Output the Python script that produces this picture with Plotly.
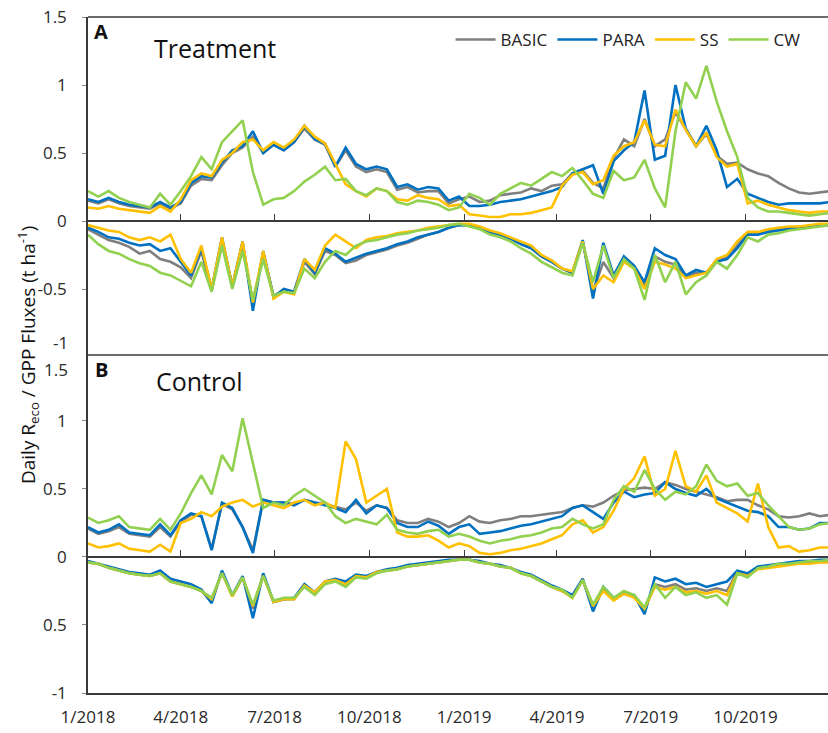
import plotly.graph_objects as go
import pandas as pd

# ---------------- data (10-day samples) ----------------
dates = pd.date_range("2018-01-01", periods=73, freq="10D")

series_names = ["BASIC", "PARA", "SS", "CW"]
colors = ["#7f7f7f", "#0070c0", "#ffc000", "#92d050"]

quarter_ticks = ["2018-01-01", "2018-04-01", "2018-07-01", "2018-10-01",
                 "2019-01-01", "2019-04-01", "2019-07-01", "2019-10-01"]
quarter_labels = ["1/2018", "4/2018", "7/2018", "10/2018",
                  "1/2019", "4/2019", "7/2019", "10/2019"]

# Panel A (Treatment) - Reco (positive)
a_reco_basic = [0.15, 0.13, 0.16, 0.13, 0.11, 0.10, 0.09, 0.13, 0.09, 0.13,
                0.26, 0.31, 0.30, 0.41, 0.50, 0.54, 0.62, 0.50, 0.56, 0.52,
                0.58, 0.68, 0.60, 0.56, 0.40, 0.52, 0.40, 0.36, 0.38, 0.36,
                0.23, 0.25, 0.21, 0.22, 0.22, 0.13, 0.16, 0.18, 0.14, 0.15,
                0.19, 0.20, 0.21, 0.24, 0.22, 0.26, 0.27, 0.35, 0.37, 0.28,
                0.24, 0.46, 0.60, 0.55, 0.75, 0.55, 0.60, 0.80, 0.68, 0.55,
                0.64, 0.48, 0.42, 0.43, 0.38, 0.35, 0.33, 0.28, 0.24, 0.21,
                0.20, 0.21, 0.22]
a_reco_para = [0.16, 0.14, 0.17, 0.14, 0.12, 0.11, 0.10, 0.14, 0.10, 0.14,
               0.28, 0.33, 0.32, 0.43, 0.52, 0.55, 0.66, 0.50, 0.56, 0.52,
               0.58, 0.70, 0.60, 0.57, 0.40, 0.54, 0.42, 0.38, 0.40, 0.38,
               0.25, 0.27, 0.23, 0.25, 0.24, 0.15, 0.18, 0.11, 0.11, 0.12,
               0.14, 0.15, 0.16, 0.18, 0.20, 0.22, 0.25, 0.35, 0.38, 0.41,
               0.20, 0.44, 0.52, 0.58, 0.96, 0.45, 0.48, 1.00, 0.68, 0.55,
               0.70, 0.52, 0.25, 0.31, 0.20, 0.17, 0.14, 0.12, 0.13, 0.13,
               0.13, 0.13, 0.14]
a_reco_ss = [0.10, 0.09, 0.11, 0.09, 0.08, 0.07, 0.06, 0.11, 0.07, 0.16,
             0.30, 0.35, 0.33, 0.45, 0.50, 0.58, 0.60, 0.52, 0.58, 0.54,
             0.60, 0.70, 0.62, 0.57, 0.42, 0.27, 0.22, 0.18, 0.24, 0.22,
             0.16, 0.15, 0.19, 0.17, 0.16, 0.11, 0.12, 0.05, 0.04, 0.03,
             0.03, 0.05, 0.05, 0.06, 0.08, 0.10, 0.26, 0.34, 0.36, 0.27,
             0.30, 0.48, 0.55, 0.58, 0.74, 0.56, 0.55, 0.82, 0.67, 0.55,
             0.65, 0.47, 0.40, 0.42, 0.13, 0.15, 0.12, 0.10, 0.08, 0.07,
             0.06, 0.07, 0.07]
a_reco_cw = [0.22, 0.18, 0.22, 0.17, 0.14, 0.12, 0.10, 0.20, 0.12, 0.22,
             0.33, 0.47, 0.38, 0.58, 0.66, 0.74, 0.36, 0.12, 0.16, 0.17,
             0.22, 0.29, 0.34, 0.40, 0.30, 0.31, 0.22, 0.19, 0.24, 0.22,
             0.14, 0.12, 0.15, 0.14, 0.12, 0.08, 0.10, 0.20, 0.17, 0.12,
             0.20, 0.24, 0.28, 0.26, 0.31, 0.36, 0.33, 0.39, 0.30, 0.20,
             0.17, 0.37, 0.30, 0.32, 0.45, 0.24, 0.10, 0.66, 1.02, 0.90,
             1.14, 0.88, 0.66, 0.47, 0.17, 0.10, 0.07, 0.07, 0.06, 0.05,
             0.04, 0.05, 0.06]

# Panel A (Treatment) - GPP (negative)
a_gpp_basic = [-0.06, -0.10, -0.14, -0.16, -0.19, -0.24, -0.22, -0.28, -0.30, -0.34,
               -0.42, -0.22, -0.51, -0.14, -0.48, -0.17, -0.60, -0.24, -0.55, -0.51,
               -0.52, -0.30, -0.39, -0.22, -0.25, -0.31, -0.29, -0.25, -0.23, -0.21,
               -0.18, -0.16, -0.13, -0.10, -0.08, -0.05, -0.03, -0.03, -0.05, -0.08,
               -0.10, -0.13, -0.17, -0.20, -0.26, -0.30, -0.35, -0.38, -0.15, -0.52,
               -0.30, -0.42, -0.28, -0.34, -0.48, -0.26, -0.30, -0.32, -0.41, -0.38,
               -0.38, -0.29, -0.27, -0.18, -0.09, -0.09, -0.07, -0.06, -0.05, -0.05,
               -0.04, -0.03, -0.03]
a_gpp_para = [-0.05, -0.08, -0.12, -0.13, -0.16, -0.18, -0.17, -0.22, -0.20, -0.30,
              -0.40, -0.20, -0.50, -0.12, -0.48, -0.15, -0.66, -0.22, -0.56, -0.50,
              -0.52, -0.28, -0.38, -0.20, -0.24, -0.30, -0.27, -0.24, -0.22, -0.20,
              -0.17, -0.15, -0.12, -0.10, -0.08, -0.05, -0.03, -0.03, -0.05, -0.08,
              -0.10, -0.13, -0.17, -0.20, -0.26, -0.30, -0.35, -0.38, -0.14, -0.57,
              -0.16, -0.40, -0.26, -0.33, -0.45, -0.20, -0.25, -0.28, -0.40, -0.36,
              -0.38, -0.30, -0.28, -0.20, -0.10, -0.10, -0.08, -0.07, -0.06, -0.05,
              -0.04, -0.03, -0.03]
a_gpp_ss = [-0.03, -0.05, -0.07, -0.08, -0.12, -0.14, -0.12, -0.15, -0.10, -0.28,
            -0.38, -0.18, -0.50, -0.12, -0.48, -0.15, -0.60, -0.22, -0.57, -0.52,
            -0.54, -0.28, -0.36, -0.18, -0.10, -0.15, -0.20, -0.14, -0.12, -0.11,
            -0.09, -0.08, -0.07, -0.05, -0.04, -0.03, -0.02, -0.02, -0.04, -0.07,
            -0.09, -0.12, -0.15, -0.18, -0.25, -0.29, -0.35, -0.37, -0.15, -0.50,
            -0.40, -0.45, -0.30, -0.35, -0.50, -0.30, -0.32, -0.35, -0.42, -0.40,
            -0.38, -0.28, -0.25, -0.15, -0.08, -0.08, -0.06, -0.05, -0.04, -0.04,
            -0.03, -0.02, -0.02]
a_gpp_cw = [-0.10, -0.17, -0.22, -0.24, -0.28, -0.31, -0.33, -0.38, -0.40, -0.44,
            -0.48, -0.30, -0.52, -0.18, -0.50, -0.22, -0.58, -0.28, -0.55, -0.52,
            -0.53, -0.35, -0.42, -0.30, -0.22, -0.25, -0.18, -0.15, -0.14, -0.12,
            -0.10, -0.09, -0.07, -0.06, -0.05, -0.03, -0.02, -0.04, -0.06, -0.10,
            -0.12, -0.15, -0.20, -0.24, -0.30, -0.34, -0.38, -0.40, -0.16, -0.45,
            -0.18, -0.42, -0.28, -0.35, -0.58, -0.25, -0.45, -0.30, -0.54, -0.45,
            -0.40, -0.30, -0.35, -0.25, -0.12, -0.15, -0.10, -0.09, -0.07, -0.06,
            -0.05, -0.04, -0.03]

# Panel B (Control) - Reco (positive)
b_reco_basic = [0.21, 0.17, 0.19, 0.22, 0.17, 0.16, 0.15, 0.22, 0.15, 0.26,
                0.31, 0.30, 0.06, 0.39, 0.35, 0.22, 0.05, 0.42, 0.40, 0.40,
                0.39, 0.42, 0.40, 0.39, 0.37, 0.35, 0.40, 0.34, 0.38, 0.36,
                0.27, 0.25, 0.25, 0.28, 0.26, 0.22, 0.25, 0.30, 0.26, 0.25,
                0.27, 0.28, 0.30, 0.30, 0.31, 0.32, 0.33, 0.36, 0.38, 0.37,
                0.40, 0.45, 0.49, 0.50, 0.51, 0.50, 0.55, 0.53, 0.50, 0.48,
                0.46, 0.44, 0.41, 0.42, 0.42, 0.38, 0.35, 0.30, 0.29, 0.30,
                0.32, 0.30, 0.31]
b_reco_para = [0.22, 0.18, 0.20, 0.24, 0.18, 0.17, 0.16, 0.24, 0.16, 0.27,
               0.32, 0.30, 0.05, 0.40, 0.36, 0.22, 0.03, 0.42, 0.40, 0.40,
               0.38, 0.42, 0.40, 0.38, 0.36, 0.33, 0.42, 0.32, 0.38, 0.36,
               0.25, 0.22, 0.22, 0.26, 0.23, 0.17, 0.22, 0.24, 0.17, 0.18,
               0.19, 0.21, 0.23, 0.24, 0.26, 0.28, 0.30, 0.36, 0.38, 0.33,
               0.28, 0.40, 0.48, 0.44, 0.46, 0.47, 0.55, 0.50, 0.47, 0.45,
               0.50, 0.43, 0.40, 0.37, 0.34, 0.33, 0.30, 0.22, 0.22, 0.20,
               0.21, 0.25, 0.25]
b_reco_ss = [0.10, 0.07, 0.08, 0.10, 0.06, 0.05, 0.04, 0.09, 0.04, 0.25,
             0.28, 0.33, 0.30, 0.37, 0.40, 0.42, 0.37, 0.40, 0.38, 0.36,
             0.40, 0.42, 0.38, 0.40, 0.36, 0.85, 0.72, 0.40, 0.45, 0.50,
             0.18, 0.15, 0.15, 0.16, 0.12, 0.07, 0.10, 0.08, 0.03, 0.02,
             0.03, 0.05, 0.06, 0.08, 0.10, 0.13, 0.16, 0.24, 0.27, 0.18,
             0.22, 0.34, 0.50, 0.58, 0.74, 0.45, 0.50, 0.78, 0.52, 0.48,
             0.60, 0.40, 0.36, 0.32, 0.26, 0.54, 0.22, 0.07, 0.08, 0.04,
             0.05, 0.07, 0.07]
b_reco_cw = [0.29, 0.25, 0.27, 0.30, 0.22, 0.21, 0.20, 0.28, 0.20, 0.32,
             0.47, 0.60, 0.46, 0.75, 0.63, 1.02, 0.68, 0.36, 0.40, 0.38,
             0.45, 0.50, 0.45, 0.40, 0.30, 0.25, 0.28, 0.26, 0.24, 0.31,
             0.20, 0.18, 0.17, 0.19, 0.20, 0.15, 0.17, 0.15, 0.12, 0.10,
             0.12, 0.13, 0.15, 0.16, 0.18, 0.21, 0.22, 0.28, 0.24, 0.21,
             0.24, 0.42, 0.52, 0.48, 0.64, 0.50, 0.42, 0.48, 0.46, 0.52,
             0.68, 0.56, 0.52, 0.54, 0.45, 0.47, 0.38, 0.30, 0.22, 0.20,
             0.21, 0.24, 0.25]

# Panel B (Control) - GPP (negative)
b_gpp_basic = [-0.04, -0.05, -0.08, -0.10, -0.12, -0.13, -0.14, -0.12, -0.18, -0.20,
               -0.22, -0.25, -0.32, -0.11, -0.29, -0.15, -0.38, -0.13, -0.33, -0.31,
               -0.31, -0.21, -0.27, -0.19, -0.17, -0.20, -0.14, -0.15, -0.11, -0.10,
               -0.09, -0.07, -0.06, -0.05, -0.04, -0.03, -0.02, -0.02, -0.04, -0.05,
               -0.07, -0.08, -0.12, -0.14, -0.18, -0.22, -0.25, -0.29, -0.17, -0.37,
               -0.24, -0.31, -0.27, -0.29, -0.39, -0.20, -0.22, -0.20, -0.24, -0.23,
               -0.25, -0.23, -0.25, -0.11, -0.13, -0.08, -0.07, -0.06, -0.05, -0.04,
               -0.04, -0.03, -0.03]
b_gpp_para = [-0.03, -0.05, -0.07, -0.09, -0.11, -0.12, -0.13, -0.10, -0.16, -0.18,
              -0.20, -0.24, -0.34, -0.10, -0.28, -0.14, -0.45, -0.12, -0.33, -0.31,
              -0.30, -0.20, -0.26, -0.18, -0.16, -0.18, -0.13, -0.14, -0.11, -0.09,
              -0.08, -0.06, -0.05, -0.04, -0.03, -0.02, -0.02, -0.02, -0.03, -0.05,
              -0.06, -0.08, -0.11, -0.13, -0.17, -0.21, -0.24, -0.28, -0.16, -0.40,
              -0.22, -0.30, -0.26, -0.28, -0.42, -0.15, -0.18, -0.16, -0.20, -0.19,
              -0.22, -0.20, -0.18, -0.10, -0.12, -0.07, -0.06, -0.05, -0.04, -0.03,
              -0.03, -0.02, -0.02]
b_gpp_ss = [-0.04, -0.05, -0.08, -0.10, -0.12, -0.13, -0.14, -0.12, -0.18, -0.20,
            -0.22, -0.25, -0.31, -0.12, -0.29, -0.15, -0.36, -0.14, -0.33, -0.31,
            -0.31, -0.21, -0.26, -0.18, -0.17, -0.20, -0.14, -0.15, -0.11, -0.10,
            -0.09, -0.07, -0.06, -0.05, -0.04, -0.03, -0.02, -0.02, -0.04, -0.05,
            -0.07, -0.08, -0.12, -0.14, -0.18, -0.22, -0.25, -0.30, -0.17, -0.36,
            -0.25, -0.32, -0.27, -0.30, -0.38, -0.22, -0.24, -0.22, -0.26, -0.25,
            -0.27, -0.25, -0.28, -0.12, -0.14, -0.09, -0.08, -0.07, -0.06, -0.05,
            -0.05, -0.04, -0.04]
b_gpp_cw = [-0.04, -0.05, -0.08, -0.10, -0.12, -0.13, -0.14, -0.12, -0.18, -0.20,
            -0.22, -0.25, -0.30, -0.12, -0.28, -0.15, -0.35, -0.14, -0.32, -0.30,
            -0.30, -0.22, -0.28, -0.20, -0.18, -0.22, -0.15, -0.16, -0.12, -0.10,
            -0.09, -0.07, -0.06, -0.05, -0.04, -0.03, -0.02, -0.02, -0.04, -0.05,
            -0.07, -0.08, -0.12, -0.14, -0.18, -0.22, -0.24, -0.30, -0.17, -0.35,
            -0.22, -0.30, -0.25, -0.28, -0.37, -0.20, -0.30, -0.22, -0.28, -0.26,
            -0.30, -0.28, -0.35, -0.12, -0.15, -0.08, -0.07, -0.05, -0.05, -0.04,
            -0.03, -0.03, -0.02]

panel_a = [(a_reco_basic, a_gpp_basic), (a_reco_para, a_gpp_para),
           (a_reco_ss, a_gpp_ss), (a_reco_cw, a_gpp_cw)]
panel_b = [(b_reco_basic, b_gpp_basic), (b_reco_para, b_gpp_para),
           (b_reco_ss, b_gpp_ss), (b_reco_cw, b_gpp_cw)]

# ---------------- figure ----------------
FONT = "Open Sans"
AXC = "#3a3a3a"
fig = go.Figure()

for yax, panel, show in [("y", panel_a, True), ("y2", panel_b, False)]:
    for k, (reco, gpp) in enumerate(panel):
        for j, vals in enumerate((reco, gpp)):
            fig.add_trace(go.Scatter(
                x=dates, y=vals, mode="lines", xaxis="x", yaxis=yax,
                name=series_names[k], legendgroup=series_names[k],
                showlegend=(show and j == 0),
                line=dict(color=colors[k], width=2.6),
                hoverinfo="skip"))

# empty traces so that the zero-line overlay axes are drawn
fig.add_trace(go.Scatter(x=[], y=[], xaxis="x2", yaxis="y2", showlegend=False))
fig.add_trace(go.Scatter(x=[], y=[], xaxis="x3", yaxis="y", showlegend=False))

x_range = ["2018-01-01", "2019-12-20"]
tickfont = dict(family=FONT, size=17, color="#2a2a2a")

fig.update_layout(
    width=828, height=733,
    margin=dict(l=88, r=0, t=17, b=40),
    paper_bgcolor="white", plot_bgcolor="white",
    font=dict(family=FONT, color="#222222"),
    showlegend=True,
    legend=dict(orientation="h", x=0.49, xanchor="left", y=0.966, yanchor="middle",
                font=dict(family=FONT, size=17, color="#222222"),
                bgcolor="rgba(0,0,0,0)", itemwidth=40, tracegroupgap=0),
    xaxis=dict(type="date", range=x_range, anchor="y2", domain=[0, 1],
               tickvals=quarter_ticks, ticktext=quarter_labels, ticks="",
               showline=True, linecolor=AXC, linewidth=1.5, showgrid=False,
               zeroline=False, tickfont=tickfont, ticklabelstandoff=8),
    xaxis2=dict(type="date", range=x_range, overlaying="x", anchor="free",
                position=0.201, tickvals=quarter_ticks, ticks="inside",
                ticklen=6, tickcolor=AXC, showticklabels=False, showline=True,
                linecolor=AXC, linewidth=1.5, showgrid=False, zeroline=False),
    xaxis3=dict(type="date", range=x_range, overlaying="x", anchor="free",
                position=0.698, tickvals=quarter_ticks, ticks="inside",
                ticklen=6, tickcolor=AXC, showticklabels=False, showline=True,
                linecolor=AXC, linewidth=1.5, showgrid=False, zeroline=False),
    yaxis=dict(domain=[0.497, 1], range=[-1, 1.5], anchor="x",
               tickvals=[1.5, 1, 0.5, 0, -0.5],
               ticktext=["1.5", "1", "0.5", "0", "-0.5"],
               ticks="outside", ticklen=4, tickcolor="#888888",
               showline=True, linecolor=AXC, linewidth=1.5, showgrid=False,
               zeroline=False, tickfont=tickfont, ticklabelstandoff=12),
    yaxis2=dict(domain=[0, 0.503], range=[-1, 1.5], anchor="x",
                tickvals=[1, 0.5, 0, -0.5, -1],
                ticktext=["1", "0.5", "0", "0.5", "-1"],
                ticks="outside", ticklen=4, tickcolor="#888888",
                showline=True, linecolor=AXC, linewidth=1.5, showgrid=False,
                zeroline=False, tickfont=tickfont, ticklabelstandoff=12),
    shapes=[
        dict(type="line", xref="paper", yref="paper", x0=0, x1=1, y0=1, y1=1,
             line=dict(color=AXC, width=1.5)),
        dict(type="line", xref="paper", yref="paper", x0=0, x1=1, y0=0.5, y1=0.5,
             line=dict(color=AXC, width=1.5)),
    ],
    annotations=[
        dict(text="-1", xref="paper", yref="paper", x=-0.024, y=0.519,
             xanchor="right", yanchor="middle", showarrow=False, font=tickfont),
        dict(text="1.5", xref="paper", yref="paper", x=-0.024, y=0.479,
             xanchor="right", yanchor="middle", showarrow=False, font=tickfont),
        dict(text="<b>A</b>", xref="paper", yref="paper", x=0.0176, y=0.979,
             xanchor="center", yanchor="middle", showarrow=False,
             font=dict(family=FONT, size=20, color="#111111")),
        dict(text="Treatment", xref="paper", yref="paper", x=0.172, y=0.954,
             xanchor="center", yanchor="middle", showarrow=False,
             font=dict(family=FONT, size=25, color="#111111")),
        dict(text="<b>B</b>", xref="paper", yref="paper", x=0.0176, y=0.479,
             xanchor="center", yanchor="middle", showarrow=False,
             font=dict(family=FONT, size=20, color="#111111")),
        dict(text="Control", xref="paper", yref="paper", x=0.151, y=0.4615,
             xanchor="center", yanchor="middle", showarrow=False,
             font=dict(family=FONT, size=25, color="#111111")),
        dict(text="Daily R<sub>eco</sub> / GPP Fluxes (t ha<sup>-1</sup>)",
             xref="paper", yref="paper", x=-0.081, y=0.5, textangle=-90,
             xanchor="center", yanchor="middle", showarrow=False,
             font=dict(family=FONT, size=19, color="#111111")),
    ],
)

fig.write_html("out.html")
